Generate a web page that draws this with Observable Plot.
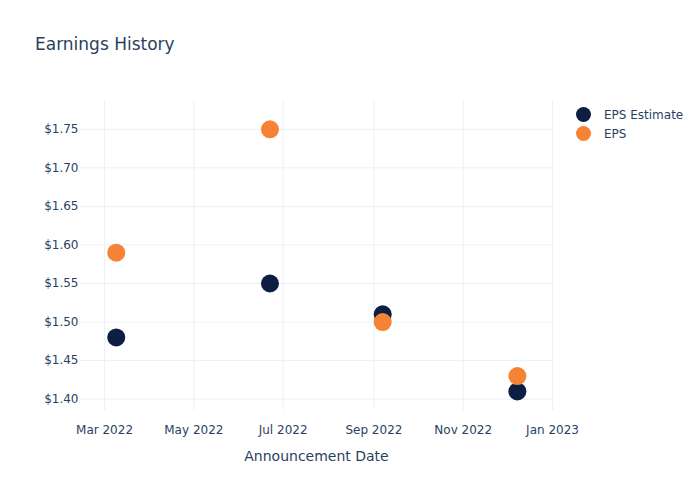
<!DOCTYPE html>
<html>
<head>
<meta charset="utf-8">
<script src="https://cdn.jsdelivr.net/npm/d3@7"></script>
<script src="https://cdn.jsdelivr.net/npm/@observablehq/plot@0.6"></script>
<style>
  body { margin: 0; background: #fff; }
  #wrap { position: relative; width: 700px; height: 500px; font-family: "DejaVu Sans", Verdana, sans-serif; color: #2a3f5f; }
  #title { position: absolute; left: 35px; top: 34px; font-size: 17px; line-height: 20px; white-space: nowrap; }
  #xlabel { position: absolute; left: 80px; width: 473px; top: 447px; text-align: center; font-size: 14px; line-height: 18px; }
  #legend { position: absolute; left: 576px; top: 105px; font-size: 12px; }
  .item { display: flex; align-items: center; height: 19px; }
  .sw { width: 15px; height: 15px; border-radius: 50%; margin-right: 13px; }
  #chart { position: absolute; left: 0; top: 0; }
</style>
</head>
<body>
<div id="wrap">
  <div id="chart"></div>
  <div id="title">Earnings History</div>
  <div id="xlabel">Announcement Date</div>
  <div id="legend"></div>
</div>
<script>
// Data
const dates = ["2022-03-09", "2022-06-22", "2022-09-07", "2022-12-08"];
const epsEstimate = [1.48, 1.55, 1.51, 1.41];
const eps = [1.59, 1.75, 1.50, 1.43];
const seriesNames = ["EPS Estimate", "EPS"];
const seriesColors = ["#0c1f42", "#f68235"];
const xTicks = ["2022-03-01", "2022-05-01", "2022-07-01", "2022-09-01", "2022-11-01", "2023-01-01"];
const yTicks = [1.40, 1.45, 1.50, 1.55, 1.60, 1.65, 1.70, 1.75];

const rows = [];
seriesNames.forEach((s, si) => {
  const vals = si === 0 ? epsEstimate : eps;
  dates.forEach((d, i) => rows.push({date: new Date(d + "T00:00:00Z"), value: vals[i], series: s}));
});

const chart = Plot.plot({
  width: 700,
  height: 500,
  marginLeft: 80,
  marginRight: 147,
  marginTop: 100,
  marginBottom: 90,
  style: {fontFamily: "DejaVu Sans, Verdana, sans-serif", fontSize: "12px", color: "#2a3f5f", background: "#fff"},
  x: {type: "utc", domain: [new Date("2022-02-12T14:00:00Z"), new Date("2023-01-01T16:00:00Z")]},
  y: {domain: [1.3853, 1.7873]},
  color: {domain: seriesNames, range: seriesColors},
  marks: [
    Plot.gridX(xTicks.map(d => new Date(d + "T00:00:00Z")), {stroke: "#ebf0f8", strokeOpacity: 1}),
    Plot.gridY(yTicks, {stroke: "#ebf0f8", strokeOpacity: 1}),
    Plot.axisX(xTicks.map(d => new Date(d + "T00:00:00Z")), {tickSize: 0, tickPadding: 15, tickFormat: d3.utcFormat("%b %Y"), label: null}),
    Plot.axisY(yTicks, {tickSize: 0, tickPadding: 2, tickFormat: d3.format("$.2f"), label: null}),
    Plot.dot(rows, {x: "date", y: "value", fill: "series", r: 9, stroke: null})
  ]
});
document.getElementById("chart").appendChild(chart);

const legend = document.getElementById("legend");
seriesNames.forEach((s, i) => {
  const item = document.createElement("div");
  item.className = "item";
  const sw = document.createElement("div");
  sw.className = "sw";
  sw.style.background = seriesColors[i];
  const t = document.createElement("span");
  t.textContent = s;
  item.appendChild(sw);
  item.appendChild(t);
  legend.appendChild(item);
});
</script>
</body>
</html>
